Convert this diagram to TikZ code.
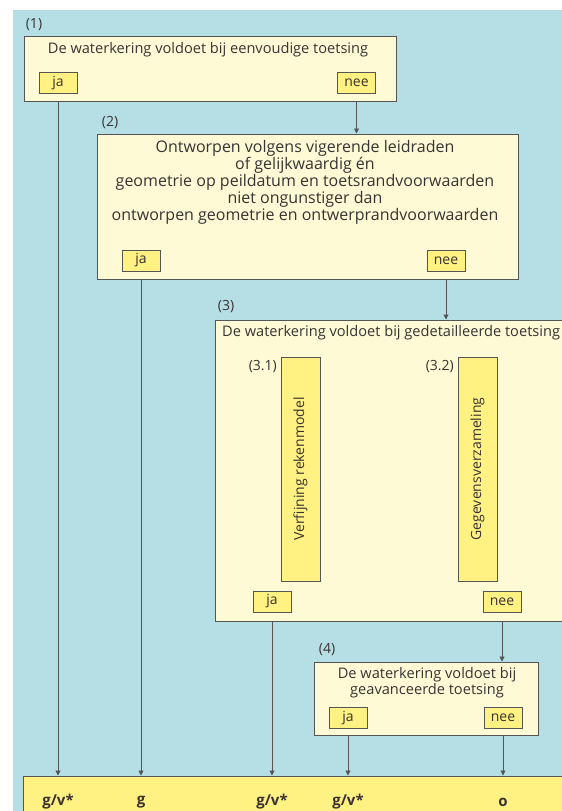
\documentclass[tikz,border=0pt]{standalone}
\usepackage{fontspec}
\setmainfont{Open Sans}
\definecolor{water}{RGB}{181, 223, 229}
\definecolor{paleyellow}{RGB}{255, 250, 214}
\definecolor{answer}{RGB}{255, 242, 131}
\definecolor{edge}{RGB}{85, 85, 85}
\definecolor{ink}{RGB}{58, 50, 50}
\usetikzlibrary{arrows.meta, positioning}

\begin{document}
\begin{tikzpicture}[x=1pt, y=-1pt,
    stage/.style={draw=edge, line width=1pt, fill=paleyellow, inner sep=0pt},
    choice/.style={draw=edge, line width=0.9pt, fill=answer, inner sep=0pt,
                   minimum width=38pt, minimum height=21pt, text=ink,
                   font=\fontsize{14}{16}\selectfont},
    title/.style={text=ink, inner sep=0pt, font=\fontsize{14.6}{16}\selectfont},
    number/.style={text=ink, inner sep=0pt, font=\fontsize{14}{16}\selectfont},
    verdict/.style={text=ink, inner sep=0pt, font=\fontsize{15}{17}\selectfont\bfseries},
    flow/.style={-{Triangle[length=5pt, width=5pt]}, line width=0.9pt, edge}
]
    \useasboundingbox (0,0) rectangle (562,811);
    \clip (0,0) rectangle (562,811);
    \fill[white] (0,0) rectangle (562,811);
    \fill[water] (13,10) rectangle (562,811);

    % stap 1
    \node[stage, minimum width=372pt, minimum height=65pt] (b1) at (210,68.5) {};
    \node[number] (n1) at (34,25) {(1)};
    \node[title] (t1) at (208,50) {De waterkering voldoet bij eenvoudige toetsing};
    \node[choice] (ja1) at (58,83) {ja};
    \node[choice] (nee1) at (356.5,83) {nee};

    % stap 2
    \node[stage, minimum width=421pt, minimum height=145pt] (b2) at (307.5,206.5) {};
    \node[number] (n2) at (110,123) {(2)};
    \node[title, align=center, font=\fontsize{16}{17}\selectfont] (t2) at (305,182)
        {Ontworpen volgens vigerende leidraden\\of gelijkwaardig én\\geometrie op peildatum en toetsrandvoorwaarden\\niet ongunstiger dan\\ontworpen geometrie en ontwerprandvoorwaarden};
    \node[choice] (ja2) at (141,260.5) {ja};
    \node[choice] (nee2) at (446,260.5) {nee};

    % stap 3
    \node[stage, minimum width=355pt, minimum height=301pt] (b3) at (392.5,470.5) {};
    \node[number] (n3) at (226,307) {(3)};
    \node[title, anchor=west] (t3) at (222,333) {De waterkering voldoet bij gedetailleerde toetsing};
    \node[choice, rotate=90, minimum width=224pt, minimum height=39pt] (s31) at (300.5,469) {Verfijning rekenmodel};
    \node[choice, rotate=90, minimum width=224pt, minimum height=39pt] (s32) at (477.5,469) {Gegevensverzameling};
    \node[number, anchor=east] (n31) at (277,367) {(3.1)};
    \node[number, anchor=east] (n32) at (454,367) {(3.2)};
    \node[choice] (ja3) at (272,601.5) {ja};
    \node[choice] (nee3) at (502,601.5) {nee};

    % stap 4
    \node[stage, minimum width=224pt, minimum height=73pt] (b4) at (426,698.5) {};
    \node[number] (n4) at (327,650) {(4)};
    \node[title, align=center] (t4) at (427,683) {De waterkering voldoet bij\\geavanceerde toetsing};
    \node[choice] (ja4) at (348,718) {ja};
    \node[choice] (nee4) at (503,718) {nee};

    % oordeel
    \node[stage, fill=answer, minimum width=547pt, minimum height=44pt] (res) at (296.5,798) {};
    \node[verdict] (v1) at (58,802) {g/v*};
    \node[verdict] (v2) at (141,802) {g};
    \node[verdict] (v3) at (272,802) {g/v*};
    \node[verdict] (v4) at (348,802) {g/v*};
    \node[verdict] (v5) at (503,802) {o};

    \draw[flow] (ja1 |- b1.south) -- (ja1 |- res.north);
    \draw[flow] (nee1 |- b1.south) -- (nee1 |- b2.north);
    \draw[flow] (ja2 |- b2.south) -- (ja2 |- res.north);
    \draw[flow] (nee2 |- b2.south) -- (nee2 |- b3.north);
    \draw[flow] (ja3 |- b3.south) -- (ja3 |- res.north);
    \draw[flow] (nee3 |- b3.south) -- (nee3 |- b4.north);
    \draw[flow] (ja4 |- b4.south) -- (ja4 |- res.north);
    \draw[flow] (nee4 |- b4.south) -- (nee4 |- res.north);
\end{tikzpicture}
\end{document}
